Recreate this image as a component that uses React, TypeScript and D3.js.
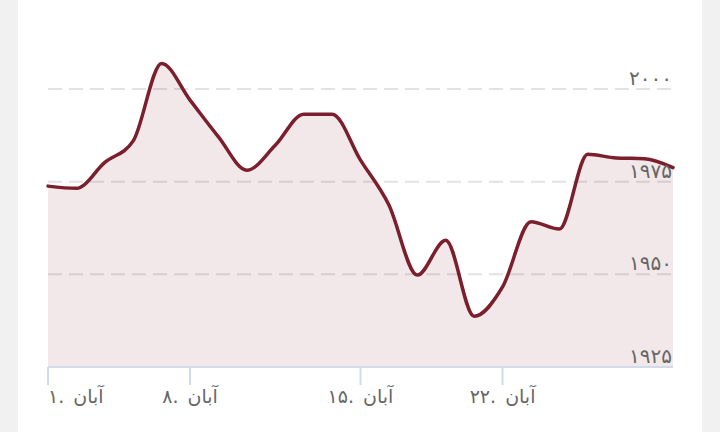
import React from "react";
import * as d3 from "d3";

// Persian (Aban) trading days, one point per day
const days: number[] = [1, 2, 3, 6, 7, 8, 9, 10, 11, 13, 14, 15, 16, 17, 20, 21, 22, 23, 24, 27, 28, 29, 30];
const values: number[] = [
  1973.8, 1973.2, 1980.2, 1986.0, 2006.9, 1997.0, 1987.1, 1978.1, 1984.8, 1993.2, 1993.2, 1980.8,
  1968.7, 1949.8, 1959.2, 1938.7, 1946.6, 1964.2, 1962.2, 1982.4, 1981.4, 1981.2, 1978.8,
];
const xTickDays: number[] = [1, 8, 15, 22];
const yTicks: number[] = [1925, 1950, 1975, 2000];
const monthName = "آبان";

const W = 720;
const H = 432;

const toFa = (n: number) => String(n).replace(/\d/g, (d) => "۰۱۲۳۴۵۶۷۸۹"[+d]);

export default function App() {
  const x = d3.scalePoint<number>().domain(d3.range(days.length)).range([48, 673]);
  const y = d3.scaleLinear().domain([1925, 2000]).range([367, 89]);
  const data = values.map((v, i) => ({ i, v }));

  const line = d3
    .line<{ i: number; v: number }>()
    .x((d) => x(d.i)!)
    .y((d) => y(d.v))
    .curve(d3.curveMonotoneX);
  const area = d3
    .area<{ i: number; v: number }>()
    .x((d) => x(d.i)!)
    .y0(y(1925))
    .y1((d) => y(d.v))
    .curve(d3.curveMonotoneX);

  const lineColor = "#7b1f2c";
  const font = "'DejaVu Sans', 'Noto Sans', sans-serif";

  return (
    <svg width={W} height={H} style={{ position: "absolute", left: 0, top: 0, display: "block" }}>
      <rect x={0} y={0} width={W} height={H} fill="#f1f1f1" />
      <rect x={18} y={0} width={684} height={H} fill="#ffffff" />

      {yTicks
        .filter((t) => t !== 1925)
        .map((t) => (
          <line
            key={"g" + t}
            x1={48}
            x2={673}
            y1={y(t)}
            y2={y(t)}
            stroke="#e2e2e2"
            strokeWidth={2}
            strokeDasharray="14 7"
          />
        ))}

      <path d={area(data) || ""} fill={lineColor} fillOpacity={0.1} />
      <path d={line(data) || ""} fill="none" stroke={lineColor} strokeWidth={3.5} strokeLinejoin="round" strokeLinecap="round" />

      <line x1={48} x2={673} y1={y(1925)} y2={y(1925)} stroke="#d3dbea" strokeWidth={2} />

      {xTickDays.map((dday, k) => {
        const idx = days.indexOf(dday);
        const px = x(idx)!;
        return (
          <g key={"t" + dday}>
            <line x1={px} x2={px} y1={y(1925)} y2={385} stroke="#d3dbea" strokeWidth={2} />
            <text
              x={px}
              y={403}
              textAnchor={k === 0 ? "start" : "middle"}
              fontFamily={font}
              fontSize={19}
              fill="#666666"
              style={{ wordSpacing: "3px" }}
            >
              {`${toFa(dday)}. ${monthName}`}
            </text>
          </g>
        );
      })}

      {yTicks.map((t) => (
        <text
          key={"y" + t}
          x={672}
          y={y(t) - 4}
          textAnchor="end"
          fontFamily={font}
          fontSize={20}
          fill="#666666"
        >
          {toFa(t)}
        </text>
      ))}
    </svg>
  );
}
